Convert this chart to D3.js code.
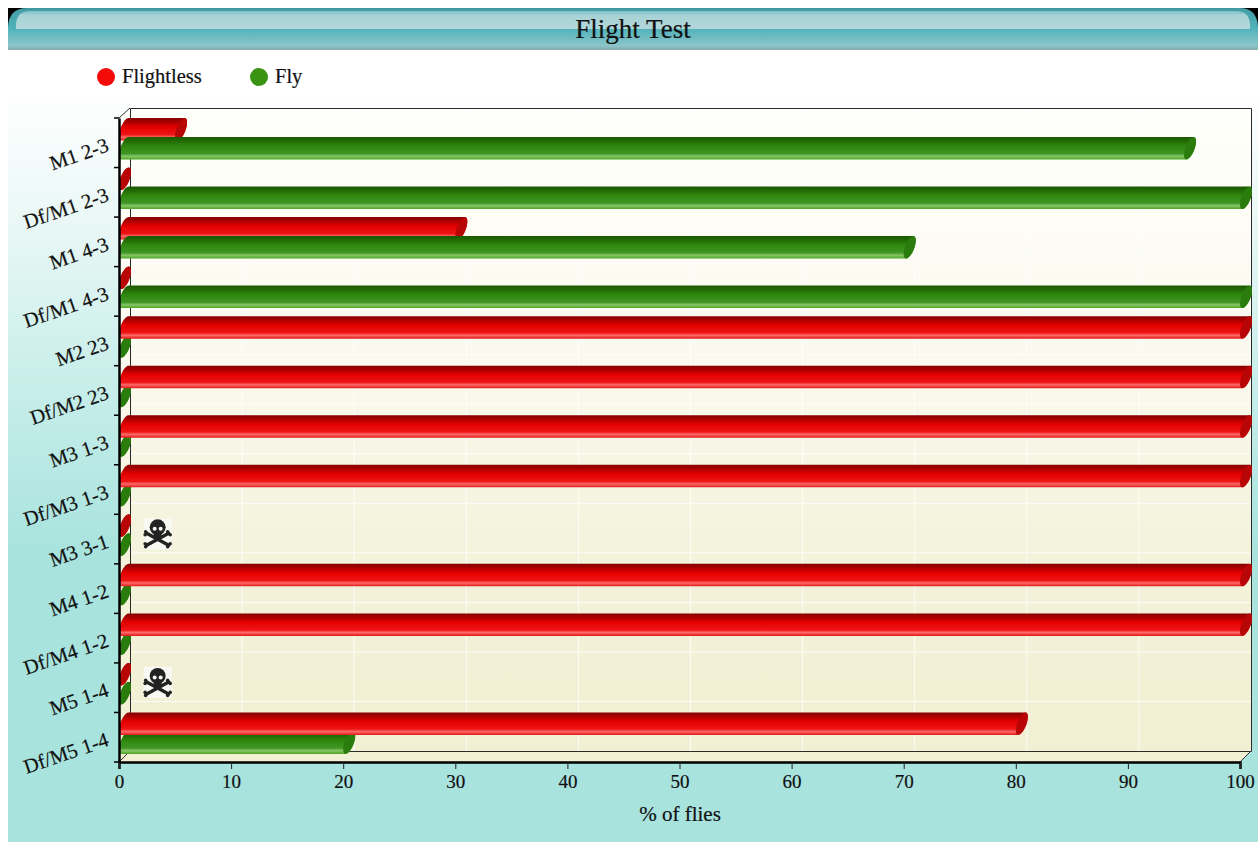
<!DOCTYPE html>
<html>
<head>
<meta charset="utf-8">
<script src="https://cdnjs.cloudflare.com/ajax/libs/d3/7.8.5/d3.min.js"></script>
<style>
html,body{margin:0;padding:0;background:#fff;overflow:hidden}
svg{display:block}
text{font-family:"Liberation Serif",serif;fill:#111;stroke:#111;stroke-width:.2}
</style>
</head>
<body>
<svg id="chart" width="1258" height="842"></svg>
<script>
// Percentage of flies in each flight class, per genotype
const categories = ["M1 2-3","Df/M1 2-3","M1 4-3","Df/M1 4-3","M2 23","Df/M2 23","M3 1-3","Df/M3 1-3","M3 3-1","M4 1-2","Df/M4 1-2","M5 1-4","Df/M5 1-4"];
const flightless = [5,0,30,0,100,100,100,100,0,100,100,0,80];
const fly = [95,100,70,100,0,0,0,0,0,0,0,0,20];
const lethal = ["M3 3-1","M5 1-4"];
const xTicks = [0,10,20,30,40,50,60,70,80,90,100];
const seriesNames = ["Flightless","Fly"];
const seriesColors = ["#f50a0a","#3a9412"];

const svg = d3.select("#chart");
const defs = svg.append("defs");

const plotLeft = 119, plotRight = 1240, plotTop = 118, plotBottom = 762, depth = 11;
const x = d3.scaleLinear().domain([0,100]).range([plotLeft,plotRight]);
const y = d3.scaleBand().domain(categories).range([plotTop,plotBottom]);
const barH = 22.5, barGap = 19;

function vGrad(id, stops){
  const g = defs.append("linearGradient").attr("id",id).attr("x1",0).attr("y1",0).attr("x2",0).attr("y2",1);
  stops.forEach(s=>g.append("stop").attr("offset",s[0]).attr("stop-color",s[1]));
}
vGrad("page",[[0,"#ffffff"],[0.1,"#ffffff"],[0.25,"#eaf8f6"],[0.45,"#c8eeea"],[0.65,"#a9e3de"],[1,"#a8e3de"]]);
vGrad("wall",[[0,"#fffffb"],[0.35,"#fbfaf0"],[0.7,"#f3f2da"],[1,"#f1f0d3"]]);
vGrad("barRed",[[0,"#850000"],[0.18,"#ab0000"],[0.4,"#e40000"],[0.74,"#ee1515"],[0.85,"#ff6a6a"],[1,"#e01818"]]);
vGrad("barGreen",[[0,"#1c5800"],[0.18,"#226a05"],[0.4,"#2f870e"],[0.74,"#409624"],[0.85,"#86c668"],[1,"#4ba522"]]);
vGrad("hdr",[[0,"#3f98a0"],[0.07,"#45a0a8"],[0.5,"#52b3bb"],[0.9,"#8cc5ca"],[0.96,"#86b5b9"],[1,"#8aa9ab"]]);
vGrad("hdrGloss",[[0,"#7fbfc5"],[0.25,"#a8d2d6"],[1,"#b2d8db"]]);

// Page panel and header strip
svg.append("rect").attr("x",8).attr("y",8).attr("width",1250).attr("height",834).attr("fill","url(#page)");
svg.append("rect").attr("x",8).attr("y",8).attr("width",1250).attr("height",20).attr("fill","#000");
svg.append("path").attr("fill","url(#hdr)")
  .attr("d","M8,50V27Q9,8 27,8H1240Q1257,8 1258,27V50Z");
svg.append("path").attr("fill","url(#hdrGloss)")
  .attr("d","M16,29V24Q17,11 30,11H1236Q1249,11 1250,24V29Z");
svg.append("text").attr("x",633).attr("y",38).attr("text-anchor","middle").attr("font-size",27).text("Flight Test");

// Legend
const legendX = [106,259];
seriesNames.forEach((n,i)=>{
  svg.append("circle").attr("cx",legendX[i]).attr("cy",77).attr("r",9).attr("fill",seriesColors[i]);
  svg.append("text").attr("x",legendX[i]+16).attr("y",83).attr("font-size",20.5).text(n);
});

// Plot walls
svg.append("path").attr("fill","url(#wall)")
  .attr("d",`M${plotLeft},${plotTop}L${plotLeft+depth},${plotTop-10}H${plotRight+depth}V${plotBottom-depth}L${plotRight},${plotBottom}H${plotLeft}Z`);

// Grid on the back wall
const grid = svg.append("g").attr("stroke","#ffffff").attr("stroke-width",1).attr("opacity",0.85);
grid.selectAll("line.v").data(xTicks.slice(1,-1)).join("line").attr("class","v")
  .attr("x1",d=>x(d)+depth).attr("x2",d=>x(d)+depth).attr("y1",plotTop-10).attr("y2",plotBottom-depth);
grid.selectAll("line.h").data(categories.slice(1)).join("line").attr("class","h")
  .attr("x1",plotLeft+depth).attr("x2",plotRight+depth)
  .attr("y1",d=>y(d)-depth).attr("y2",d=>y(d)-depth);

// Wall outline and the corner edges
svg.append("path").attr("fill","none").attr("stroke","#2a2a2a").attr("stroke-width",1)
  .attr("d",`M${plotLeft+depth+.5},${plotBottom-depth}V${plotTop-9.5}H${plotRight+depth+.5}V${plotBottom-depth+.5}H${plotLeft+depth}`);
svg.append("path").attr("fill","none").attr("stroke","#333").attr("stroke-width",1)
  .attr("d",`M${plotLeft},${plotTop}L${plotLeft+depth},${plotTop-10}M${plotLeft},${plotBottom}L${plotLeft+depth},${plotBottom-depth}M${plotRight},${plotBottom}L${plotRight+depth},${plotBottom-depth}`);

// Cylinder outline: a leaning ellipse at each end joined along its top and bottom points
const ux = 3.6, vx = 4.8, tilt = 6;
function capPoints(cx, cy, from, to){
  return d3.range(0,25).map(i=>{
    const t = from + (to-from)*i/24;
    return [cx + ux*Math.sin(t) + vx*Math.cos(t), cy - (barH/2)*Math.sin(t)];
  });
}
const line = d3.line();
function drawBar(g, value, cy, fillId, capColor){
  const c0 = x(0)+tilt, c1 = x(value)+tilt;
  const rightCap = capPoints(c1,cy,Math.PI/2,-Math.PI/2);
  const leftCap = capPoints(c0,cy,-Math.PI/2,-3*Math.PI/2);
  g.append("path").attr("d",line(rightCap.concat(leftCap))+"Z").attr("fill",`url(#${fillId})`);
  g.append("path").attr("d",line(capPoints(c1,cy,0,2*Math.PI))+"Z").attr("fill",capColor);
}

// Bars: the longer cylinder of each pair sits in front
const bars = svg.append("g");
categories.forEach((c,i)=>{
  const pair = [
    {v:flightless[i], cy:y(c)+barH/2, fill:"barRed", cap:"#b80606"},
    {v:fly[i], cy:y(c)+barGap+barH/2, fill:"barGreen", cap:"#2a7c0c"}
  ];
  d3.sort(pair,d=>d.v).forEach(b=>drawBar(bars,b.v,b.cy,b.fill,b.cap));
});

// Skull and crossbones for lethal genotypes
const skull = svg.append("g");
const boneEnds = [[3,15,25,27],[25,15,3,27]];
lethal.forEach(c=>{
  const g = skull.append("g").attr("transform",`translate(${x(2.2)},${y(c)+4})`);
  g.append("rect").attr("width",28).attr("height",31).attr("fill","#f9f9f4");
  g.append("g").attr("stroke","#222").attr("stroke-width",3.4).attr("stroke-linecap","round")
    .selectAll("line").data(boneEnds).join("line")
    .attr("x1",d=>d[0]).attr("y1",d=>d[1]).attr("x2",d=>d[2]).attr("y2",d=>d[3]);
  g.append("g").attr("fill","#222").selectAll("circle")
    .data(boneEnds.flatMap(d=>[[d[0]-1,d[1]-1.5],[d[0]+(d[0]<14?-1.5:1.5),d[1]+1.5],[d[2]-1,d[3]+1.5],[d[2]+(d[2]<14?-1.5:1.5),d[3]-1.5]])).join("circle")
    .attr("cx",d=>d[0]).attr("cy",d=>d[1]).attr("r",1.8);
  g.append("ellipse").attr("cx",14).attr("cy",9).attr("rx",8).attr("ry",8).attr("fill","#222");
  g.append("rect").attr("x",10).attr("y",13).attr("width",8).attr("height",7).attr("rx",1.5).attr("fill","#222");
  g.selectAll("circle.eye").data([11,17]).join("circle").attr("class","eye")
    .attr("cx",d=>d).attr("cy",10.5).attr("r",2).attr("fill","#f4f4f0");
});

// Axes
const xAxis = svg.append("g").attr("transform",`translate(0,${plotBottom})`)
  .call(d3.axisBottom(x).tickValues(xTicks).tickSize(7).tickPadding(6));
xAxis.select(".domain").attr("stroke","#000").attr("stroke-width",2.5);
xAxis.selectAll("text").attr("font-size",19).style("font-family","'Liberation Serif',serif").attr("fill","#111");
xAxis.selectAll("line").attr("stroke","#222");

const yAxis = svg.append("g").attr("transform",`translate(${plotLeft},0)`)
  .call(d3.axisLeft(y).tickSize(0).tickPadding(0));
yAxis.select(".domain").attr("stroke","#000").attr("stroke-width",2.5);
yAxis.selectAll("text")
  .attr("font-size",20.5).style("font-family","'Liberation Serif',serif").attr("fill","#111")
  .attr("text-anchor","end").attr("x",0).attr("dy",0)
  .attr("transform","translate(-9,8) rotate(-19)");
svg.append("g").attr("stroke","#000").attr("stroke-width",1.5)
  .selectAll("line").data([...categories.map(c=>y(c)),plotBottom]).join("line")
  .attr("x1",plotLeft-5).attr("x2",plotLeft).attr("y1",d=>d).attr("y2",d=>d);

svg.append("text").attr("x",680).attr("y",821).attr("text-anchor","middle").attr("font-size",21).text("% of flies");
</script>
</body>
</html>
